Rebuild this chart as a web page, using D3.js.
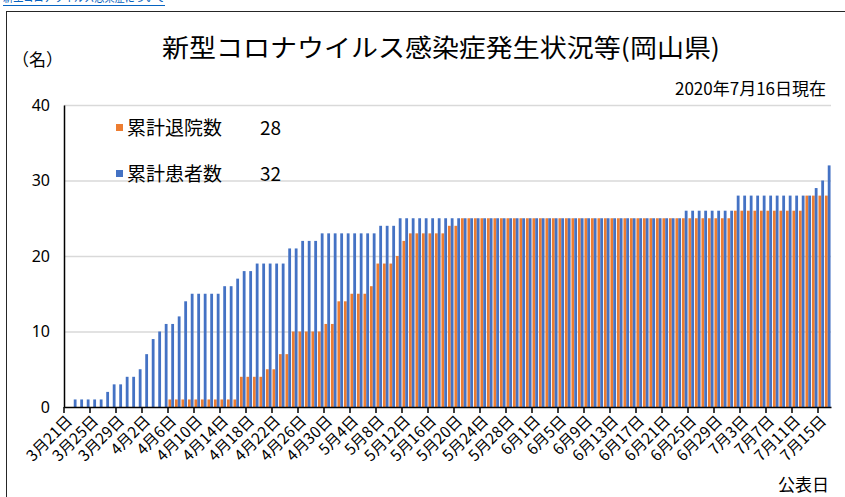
<!DOCTYPE html>
<html>
<head>
<meta charset="utf-8">
<script src="https://cdn.jsdelivr.net/npm/d3@7"></script>
<style>
  body { margin: 0; background: #fff; }
  text { font-family: "Noto Sans CJK JP", "Noto Sans", sans-serif; }
</style>
</head>
<body>
<div id="chart"></div>
<script>
const w = 845;
const h = 497;

// 公表日: 2020/3/21 .. 2020/7/16 (1日ごと)
const startDate = new Date(2020, 2, 21);
const endDate = new Date(2020, 6, 17);

// 累計患者数
const patients = [
  0, 1, 1, 1, 1, 1, 2, 3, 3, 4,
  4, 5, 7, 9, 10, 11, 11, 12, 14, 15,
  15, 15, 15, 15, 16, 16, 17, 18, 18, 19,
  19, 19, 19, 19, 21, 21, 22, 22, 22, 23,
  23, 23, 23, 23, 23, 23, 23, 23, 24, 24,
  24, 25, 25, 25, 25, 25, 25, 25, 25, 25,
  25, 25, 25, 25, 25, 25, 25, 25, 25, 25,
  25, 25, 25, 25, 25, 25, 25, 25, 25, 25,
  25, 25, 25, 25, 25, 25, 25, 25, 25, 25,
  25, 25, 25, 25, 25, 26, 26, 26, 26, 26,
  26, 26, 26, 28, 28, 28, 28, 28, 28, 28,
  28, 28, 28, 28, 28, 29, 30, 32
];

// 累計退院数
const discharged = [
  0, 0, 0, 0, 0, 0, 0, 0, 0, 0,
  0, 0, 0, 0, 0, 0, 1, 1, 1, 1,
  1, 1, 1, 1, 1, 1, 1, 4, 4, 4,
  4, 5, 5, 7, 7, 10, 10, 10, 10, 10,
  11, 11, 14, 14, 15, 15, 15, 16, 19, 19,
  19, 20, 22, 23, 23, 23, 23, 23, 23, 24,
  24, 25, 25, 25, 25, 25, 25, 25, 25, 25,
  25, 25, 25, 25, 25, 25, 25, 25, 25, 25,
  25, 25, 25, 25, 25, 25, 25, 25, 25, 25,
  25, 25, 25, 25, 25, 25, 25, 25, 25, 25,
  25, 25, 25, 26, 26, 26, 26, 26, 26, 26,
  26, 26, 26, 26, 28, 28, 28, 28
];

const seriesNames = ["累計退院数", "累計患者数"];
const seriesColors = ["#ED7D31", "#4472C4"];
const yTicks = [0, 10, 20, 30, 40];
const tickEvery = 4;

const title = "新型コロナウイルス感染症発生状況等(岡山県)";
const asOf = "2020年7月16日現在";

const dates = d3.timeDay.range(startDate, endDate);
const fmt = d3.timeFormat("%-m月%-d日");
const cats = dates.map(fmt);

const svg = d3.select("#chart").append("svg")
  .attr("width", w)
  .attr("height", h);

// top link remnant (mostly cut off by the screenshot)
svg.append("text")
  .attr("x", 3).attr("y", 1)
  .attr("font-size", 13)
  .attr("textLength", 162)
  .attr("lengthAdjust", "spacingAndGlyphs")
  .attr("fill", "#0563C1")
  .text("新型コロナウイルス感染症について");
svg.append("line")
  .attr("x1", 3).attr("x2", 165)
  .attr("y1", 5.5).attr("y2", 5.5)
  .attr("stroke", "#0563C1").attr("stroke-width", 1.2);

// chart frame
svg.append("rect")
  .attr("x", 6.5).attr("y", 11.5)
  .attr("width", w + 10).attr("height", h + 10)
  .attr("fill", "#fff")
  .attr("stroke", "#262626");

const plotL = 64, plotR = 831, plotT = 105, plotB = 407;

const x0 = d3.scaleBand().domain(cats).range([plotL, plotR]).paddingInner(0.14).paddingOuter(0.07);
const x1 = d3.scaleBand().domain(seriesNames).range([0, x0.bandwidth()]);
const y = d3.scaleLinear().domain([0, 40]).range([plotB, plotT]);

// gridlines
svg.append("g")
  .selectAll("line")
  .data(yTicks.filter(d => d > 0))
  .enter().append("line")
  .attr("x1", plotL).attr("x2", plotR)
  .attr("y1", d => y(d) + 0.5).attr("y2", d => y(d) + 0.5)
  .attr("stroke", "#d9d9d9").attr("stroke-width", 1.5);

// bars
const rows = cats.map((c, i) => ({ cat: c, vals: [discharged[i], patients[i]] }));
svg.append("g")
  .selectAll("g")
  .data(rows)
  .enter().append("g")
  .attr("transform", d => "translate(" + x0(d.cat) + ",0)")
  .selectAll("rect")
  .data(d => d.vals.map((v, k) => ({ key: seriesNames[k], v: v, k: k })))
  .enter().append("rect")
  .attr("x", d => x1(d.key))
  .attr("y", d => y(d.v))
  .attr("width", x1.bandwidth())
  .attr("height", d => plotB - y(d.v))
  .attr("fill", d => seriesColors[d.k]);

// y axis
const yAxis = d3.axisLeft(y).tickValues(yTicks).tickSize(0).tickPadding(14);
const gy = svg.append("g")
  .attr("transform", "translate(" + plotL + ",0)")
  .call(yAxis);
gy.select(".domain").attr("stroke", "#000").attr("stroke-width", 1.5);
gy.selectAll("text").attr("font-size", 16).attr("fill", "#000")
  .style("font-family", "'Noto Sans', sans-serif");

// x axis
const xAxis = d3.axisBottom(x0)
  .tickValues(cats.filter((c, i) => i % tickEvery === 0))
  .tickSize(0);
const gx = svg.append("g")
  .attr("transform", "translate(0," + plotB + ")")
  .call(xAxis);
gx.select(".domain").attr("stroke", "#000").attr("stroke-width", 1.5);
gx.selectAll("text")
  .attr("font-size", 15.5)
  .attr("fill", "#000")
  .attr("text-anchor", "end")
  .attr("dy", 0)
  .attr("y", 0)
  .attr("transform", "translate(6,15) rotate(-45)");

// tick marks at category boundaries
gx.append("g")
  .selectAll("line")
  .data(cats.filter((c, i) => i % tickEvery === 0))
  .enter().append("line")
  .attr("x1", d => x0(d) - x0.step() * x0.paddingInner() / 2)
  .attr("x2", d => x0(d) - x0.step() * x0.paddingInner() / 2)
  .attr("y1", 0).attr("y2", 6)
  .attr("stroke", "#000").attr("stroke-width", 1.5);

// titles
svg.append("text")
  .attr("x", 441).attr("y", 57)
  .attr("text-anchor", "middle")
  .attr("font-size", 25)
  .attr("textLength", 558)
  .attr("lengthAdjust", "spacingAndGlyphs")
  .attr("fill", "#000")
  .text(title);

svg.append("text")
  .attr("x", 12).attr("y", 66)
  .attr("font-size", 17)
  .attr("fill", "#000")
  .text("（名）");

svg.append("text")
  .attr("x", 826).attr("y", 95)
  .attr("text-anchor", "end")
  .attr("font-size", 17)
  .attr("fill", "#000")
  .text(asOf);

svg.append("text")
  .attr("x", 829).attr("y", 491)
  .attr("text-anchor", "end")
  .attr("font-size", 17)
  .attr("fill", "#000")
  .text("公表日");

// legend
const legendVals = [discharged[discharged.length - 1], patients[patients.length - 1]];
const lg = svg.append("g").selectAll("g")
  .data(seriesNames)
  .enter().append("g")
  .attr("transform", (d, i) => "translate(116," + (128 + i * 46) + ")");
lg.append("rect")
  .attr("x", 0).attr("y", -4)
  .attr("width", 7).attr("height", 7)
  .attr("fill", (d, i) => seriesColors[i]);
const lt = lg.append("text")
  .attr("x", 11).attr("y", 7)
  .attr("font-size", 19)
  .attr("fill", "#000");
lt.append("tspan").text(d => d);
lt.append("tspan").attr("x", 144).text((d, i) => legendVals[i]);
</script>
</body>
</html>
